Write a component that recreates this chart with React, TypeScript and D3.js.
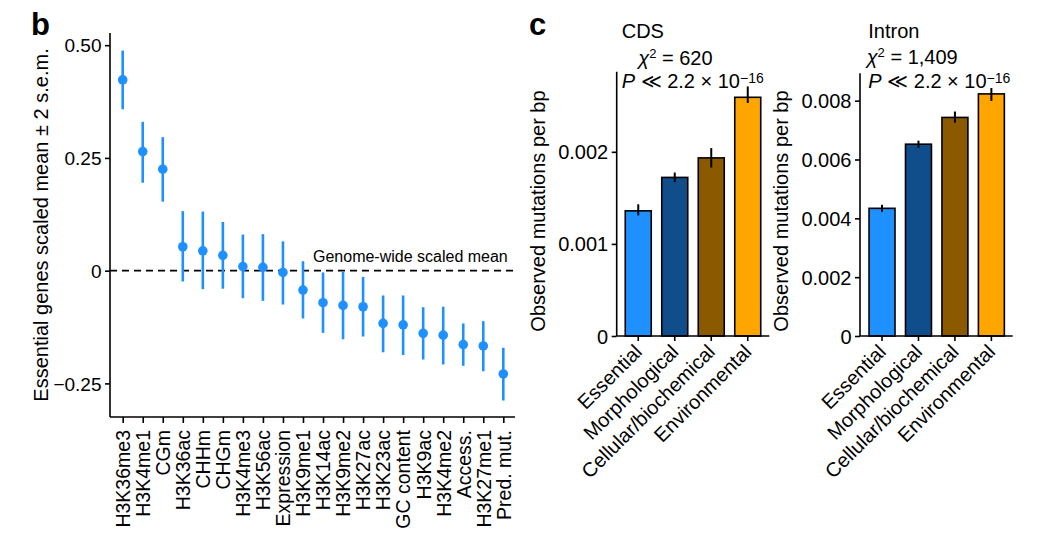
import React from 'react'
import * as d3 from 'd3'

// panel b: essential genes vs genome-wide, scaled mean +/- 2 s.e.m.
const traits = [
  'H3K36me3', 'H3K4me1', 'CGm', 'H3K36ac', 'CHHm', 'CHGm', 'H3K4me3', 'H3K56ac',
  'Expression', 'H3K9me1', 'H3K14ac', 'H3K9me2', 'H3K27ac', 'H3K23ac', 'GC content',
  'H3K9ac', 'H3K4me2', 'Access.', 'H3K27me1', 'Pred. mut.',
]
const traitMean = [
  0.423, 0.264, 0.225, 0.053, 0.044, 0.034, 0.009, 0.0075, -0.004, -0.043,
  -0.071, -0.077, -0.08, -0.117, -0.12, -0.139, -0.143, -0.164, -0.167, -0.229,
]
const traitUpper = [
  0.488, 0.33, 0.296, 0.132, 0.131, 0.108, 0.08, 0.081, 0.065, 0.021,
  -0.004, -0.003, -0.014, -0.055, -0.055, -0.081, -0.08, -0.117, -0.112, -0.171,
]
const traitLower = [
  0.358, 0.195, 0.153, -0.024, -0.041, -0.04, -0.061, -0.067, -0.075, -0.106,
  -0.138, -0.152, -0.146, -0.181, -0.187, -0.197, -0.208, -0.211, -0.223, -0.288,
]
const traitTicks = [-0.25, 0, 0.25, 0.5]

// panel c: observed mutations per bp by gene group
const groups = ['Essential', 'Morphological', 'Cellular/biochemical', 'Environmental']
const groupColors = ['#1E90FF', '#104E8B', '#8B5A00', '#FFA500']
const cdsMean = [0.001359, 0.001722, 0.001934, 0.002592]
const cdsLower = [0.00131, 0.00167, 0.00183, 0.00253]
const cdsUpper = [0.00143, 0.001775, 0.00204, 0.00271]
const cdsTicks = [0, 0.001, 0.002]
const intronMean = [0.00434, 0.00652, 0.00743, 0.00823]
const intronLower = [0.00422, 0.0064, 0.00725, 0.00799]
const intronUpper = [0.00446, 0.00664, 0.00763, 0.00843]
const intronTicks = [0, 0.002, 0.004, 0.006, 0.008]

const font = "'Liberation Sans', Arial, Helvetica, sans-serif"

const PanelB: React.FunctionComponent = () => {
  const xAxisRef = React.useRef<SVGGElement>(null)
  const yAxisRef = React.useRef<SVGGElement>(null)

  const left = 110
  const bottom = 417
  const top = 33
  const right = 515

  const x = d3.scalePoint<string>().domain(traits).range([122.7, 503.3])
  const y = d3.scaleLinear().domain([-0.3245, 0.527]).range([bottom, top])

  React.useEffect(() => {
    const yAxis = d3
      .axisLeft(y)
      .tickValues(traitTicks)
      .tickSize(5)
      .tickFormat(d => (d === 0 ? '0' : d3.format('.2f')(d as number)))
    const yg = d3.select(yAxisRef.current!).call(yAxis)
    yg.select('.domain').remove()
    yg.selectAll('line').attr('stroke', '#000').attr('stroke-width', 1.6)
    yg.selectAll('text')
      .attr('x', -8.5)
      .attr('dy', '0.35em')
      .attr('font-size', 19)
      .attr('font-family', font)
      .attr('fill', '#000')

    const xAxis = d3.axisBottom(x).tickSize(6)
    const xg = d3.select(xAxisRef.current!).call(xAxis)
    xg.select('.domain').remove()
    xg.selectAll('line').attr('stroke', '#000').attr('stroke-width', 1.6)
    xg.selectAll('text')
      .attr('x', -13)
      .attr('y', 0)
      .attr('dy', '0.35em')
      .attr('transform', 'rotate(-90)')
      .attr('text-anchor', 'end')
      .attr('font-size', 19.5)
      .attr('font-family', font)
      .attr('fill', '#000')
  }, [])

  return (
    <g>
      <text x={31} y={35} fontSize={31} fontWeight={900} fontFamily={font}>
        b
      </text>
      <text
        transform={`translate(48, 225) rotate(-90)`}
        textAnchor="middle"
        fontSize={20}
        fontFamily={font}
      >
        Essential genes scaled mean ± 2 s.e.m.
      </text>

      <line x1={left} x2={517} y1={y(0)} y2={y(0)} stroke="#000" strokeWidth={1.6} strokeDasharray="7,5" />
      <text x={313} y={261.7} fontSize={16} fontFamily={font}>
        Genome-wide scaled mean
      </text>

      {traits.map((t, i) => (
        <g key={t}>
          <line
            x1={x(t)}
            x2={x(t)}
            y1={y(traitUpper[i])}
            y2={y(traitLower[i])}
            stroke="#1E90FF"
            strokeWidth={2.6}
          />
          <circle cx={x(t)} cy={y(traitMean[i])} r={4.8} fill="#1E90FF" />
        </g>
      ))}

      <line x1={left} x2={left} y1={top} y2={bottom} stroke="#000" strokeWidth={1.6} />
      <line x1={left} x2={right} y1={bottom} y2={bottom} stroke="#000" strokeWidth={1.6} />
      <g ref={yAxisRef} transform={`translate(${left}, 0)`} />
      <g ref={xAxisRef} transform={`translate(0, ${bottom})`} />
    </g>
  )
}

type BarProps = {
  axisX: number
  axisEnd: number
  bandRange: [number, number]
  top: number
  yMax: number
  mean: number[]
  lower: number[]
  upper: number[]
  ticks: number[]
  titleX: number
  title: string
  chiX: number
  chiBase: number
  chi: string
  titleLabelX: number
}

const BarPanel: React.FunctionComponent<BarProps> = props => {
  const { axisX, axisEnd, bandRange, top, yMax, mean, lower, upper, ticks } = props
  const xAxisRef = React.useRef<SVGGElement>(null)
  const yAxisRef = React.useRef<SVGGElement>(null)
  const bottom = 336

  const x = d3.scaleBand<string>().domain(groups).range(bandRange).paddingInner(0.288).paddingOuter(0.144)
  const y = d3.scaleLinear().domain([0, yMax]).range([bottom, top])

  React.useEffect(() => {
    const yAxis = d3
      .axisLeft(y)
      .tickValues(ticks)
      .tickSize(5)
      .tickFormat(d => (d === 0 ? '0' : d3.format('.3f')(d as number)))
    const yg = d3.select(yAxisRef.current!).call(yAxis)
    yg.select('.domain').remove()
    yg.selectAll('line').attr('stroke', '#000').attr('stroke-width', 1.6)
    yg.selectAll('text')
      .attr('x', -8.5)
      .attr('dy', '0.35em')
      .attr('font-size', 20)
      .attr('font-family', font)
      .attr('fill', '#000')

    const xAxis = d3.axisBottom(x).tickSize(5)
    const xg = d3.select(xAxisRef.current!).call(xAxis)
    xg.select('.domain').remove()
    xg.selectAll('line').attr('stroke', '#000').attr('stroke-width', 1.6)
    xg.selectAll('text')
      .attr('x', 0)
      .attr('y', 0)
      .attr('dy', 0)
      .attr('transform', 'translate(5, 17) rotate(-45)')
      .attr('text-anchor', 'end')
      .attr('font-size', 20)
      .attr('font-family', font)
      .attr('fill', '#000')
  }, [])

  return (
    <g fontFamily={font}>
      <text
        transform={`translate(${props.titleLabelX}, 211) rotate(-90)`}
        textAnchor="middle"
        fontSize={20}
      >
        Observed mutations per bp
      </text>
      <text x={props.titleX} y={38.3} fontSize={20}>
        {props.title}
      </text>
      <text x={props.chiX} y={props.chiBase} fontSize={20}>
        <tspan fontStyle="italic">χ</tspan>
        <tspan fontSize={13} dy={-7}>2</tspan>
        <tspan dy={7}>{` = ${props.chi}`}</tspan>
      </text>
      <text x={props.titleX} y={88.3} fontSize={20}>
        <tspan fontStyle="italic">P</tspan>
        <tspan>{' ≪ 2.2 × 10'}</tspan>
        <tspan fontSize={14} dy={-5}>−16</tspan>
      </text>

      {groups.map((g, i) => (
        <g key={g}>
          <rect
            x={x(g)}
            y={y(mean[i])}
            width={x.bandwidth()}
            height={bottom - y(mean[i])}
            fill={groupColors[i]}
            stroke="#000"
            strokeWidth={1.6}
          />
          <line
            x1={x(g)! + x.bandwidth() / 2}
            x2={x(g)! + x.bandwidth() / 2}
            y1={y(upper[i])}
            y2={y(lower[i])}
            stroke="#000"
            strokeWidth={2}
          />
        </g>
      ))}

      <line x1={axisX} x2={axisX} y1={top} y2={bottom} stroke="#000" strokeWidth={1.6} />
      <line x1={axisX} x2={axisEnd} y1={bottom} y2={bottom} stroke="#000" strokeWidth={1.6} />
      <g ref={yAxisRef} transform={`translate(${axisX}, 0)`} />
      <g ref={xAxisRef} transform={`translate(0, ${bottom})`} />
    </g>
  )
}

const App: React.FunctionComponent = () => {
  return (
    <svg
      width={1043}
      height={547}
      style={{ position: 'absolute', left: 0, top: 0, background: '#fff' }}
    >
      <PanelB />
      <text x={529} y={35} fontSize={31} fontWeight={900} fontFamily={font}>
        c
      </text>
      <BarPanel
        axisX={616.7}
        axisEnd={769.3}
        bandRange={[620, 766]}
        top={71.7}
        yMax={0.00287}
        mean={cdsMean}
        lower={cdsLower}
        upper={cdsUpper}
        ticks={cdsTicks}
        titleX={621.7}
        title="CDS"
        chiX={638.3}
        chiBase={65}
        chi="620"
        titleLabelX={544.5}
      />
      <BarPanel
        axisX={860}
        axisEnd={1012.7}
        bandRange={[863.8, 1009.6]}
        top={73.3}
        yMax={0.00893}
        mean={intronMean}
        lower={intronLower}
        upper={intronUpper}
        ticks={intronTicks}
        titleX={868.3}
        title="Intron"
        chiX={866.7}
        chiBase={64}
        chi="1,409"
        titleLabelX={787.6}
      />
    </svg>
  )
}

export default App
